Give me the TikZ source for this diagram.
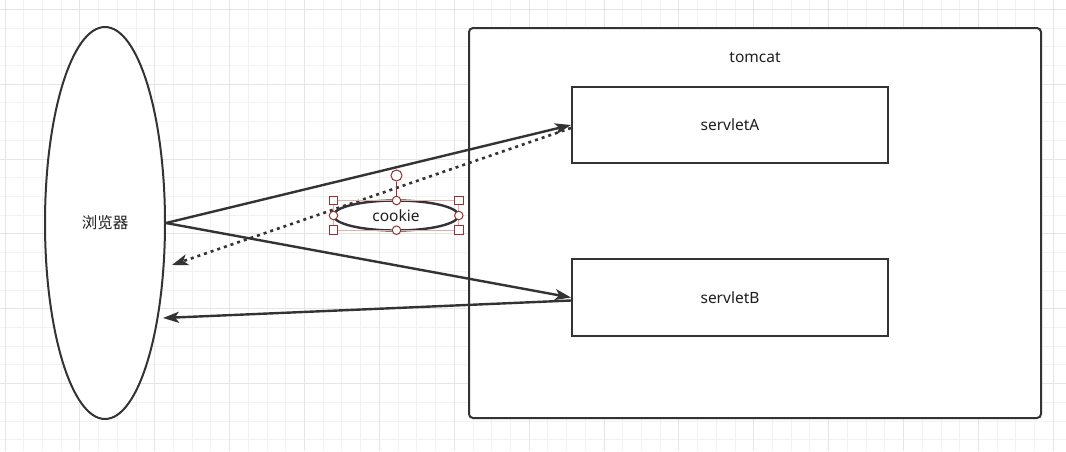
\documentclass[tikz,border=0pt]{standalone}
\usepackage{fontspec}
\setmainfont{Noto Sans}
\newfontfamily\cjk{Noto Sans CJK SC}
\definecolor{linegray}{RGB}{51, 51, 51}
\definecolor{handlered}{RGB}{150, 50, 50}
\definecolor{selpink}{RGB}{225, 175, 175}
\usetikzlibrary{
  arrows.meta,
  calc,
  positioning,
  shapes.geometric,
}
\tikzset{
  >={Stealth[length=16pt,width=11pt,inset=4pt]},
  gridminor/.style={draw=black!5,line width=1pt},
  gridmajor/.style={draw=black!10,line width=1pt},
  box/.style={draw=linegray,line width=2pt,rectangle,fill=white},
  link/.style={->,draw=linegray,line width=2.4pt},
  handlebox/.style={draw=handlered,fill=white,line width=1pt,rectangle,minimum size=8.5pt,inner sep=0pt},
  handledot/.style={draw=handlered,fill=white,line width=1pt,circle,minimum size=8.5pt,inner sep=0pt},
}

\begin{document}
\begin{tikzpicture}[x=1pt,y=-1pt,font=\fontsize{15.5}{18}\selectfont,text=black!88]
    \useasboundingbox[fill=white] (0,0) rectangle (1066,451);

        % grid
        \foreach \k in {0,...,56} {\pgfmathsetmacro\gx{5+18.72*\k} \draw[gridminor] (\gx,0) -- (\gx,451);}
        \foreach \k in {0,...,23} {\pgfmathsetmacro\gy{9.3+18.72*\k} \draw[gridminor] (0,\gy) -- (1066,\gy);}
        \foreach \k in {0,4,...,56} {\pgfmathsetmacro\gx{5+18.72*\k} \draw[gridmajor] (\gx,0) -- (\gx,451);}
        \foreach \k in {0,4,...,20} {\pgfmathsetmacro\gy{9.3+18.72*\k} \draw[gridmajor] (0,\gy) -- (1066,\gy);}

        \node[draw=linegray,line width=2pt,ellipse,fill=white,minimum width=120,minimum height=392,inner sep=0pt]    (browser) at (105,223)    {\cjk 浏览器};
        \node[box,rounded corners=4,minimum width=572,minimum height=390]    (tomcat) at (755,223)    {};
        \node    (tomcattext) at (755,57)    {tomcat};
        \node[box,minimum width=316,minimum height=76]    (sa) at (730,125)    {servletA};
        \node[box,minimum width=316,minimum height=77]    (sb) [below=94pt of sa]    {servletB};

        \coordinate (bdot) at (172,265);
        \coordinate (bret) at (163,318);

        \draw[link] (browser.east) -- (sa.west);
        \draw[link,line width=2.6pt,dash pattern=on 3pt off 4pt] ([yshift=-3pt]sa.west) -- (bdot);
        \draw[link] (browser.east) -- (sb.west);
        \draw[link] ([yshift=-3pt]sb.west) -- (bret);

        % cookie with its selection handles
        \node[draw=linegray,line width=2.4pt,ellipse,fill=white,minimum width=125,minimum height=30,inner sep=0pt]    (cookie) at (396,215.5)    {cookie};
        \draw[selpink,line width=0.8pt] (333.5,200.5) rectangle (458.8,230.2);
        \node[handledot,minimum size=11pt]    (rot) at (396.5,175.5)    {};
        \node[handledot]    (hn) at (396.5,200.5)    {};
        \draw[handlered,line width=1.2pt] (rot) -- (hn);
        \node[handledot]    (hs) at (396.5,230.2)    {};
        \node[handledot]    (hw) at (333.5,215.5)    {};
        \node[handledot]    (he) at (458.8,215.5)    {};
        \node[handlebox]    (hnw) at (333.5,200.5)    {};
        \node[handlebox]    (hne) at (458.8,200.5)    {};
        \node[handlebox]    (hsw) at (333.5,230.2)    {};
        \node[handlebox]    (hse) at (458.8,230.2)    {};

    \end{tikzpicture}
\end{document}
